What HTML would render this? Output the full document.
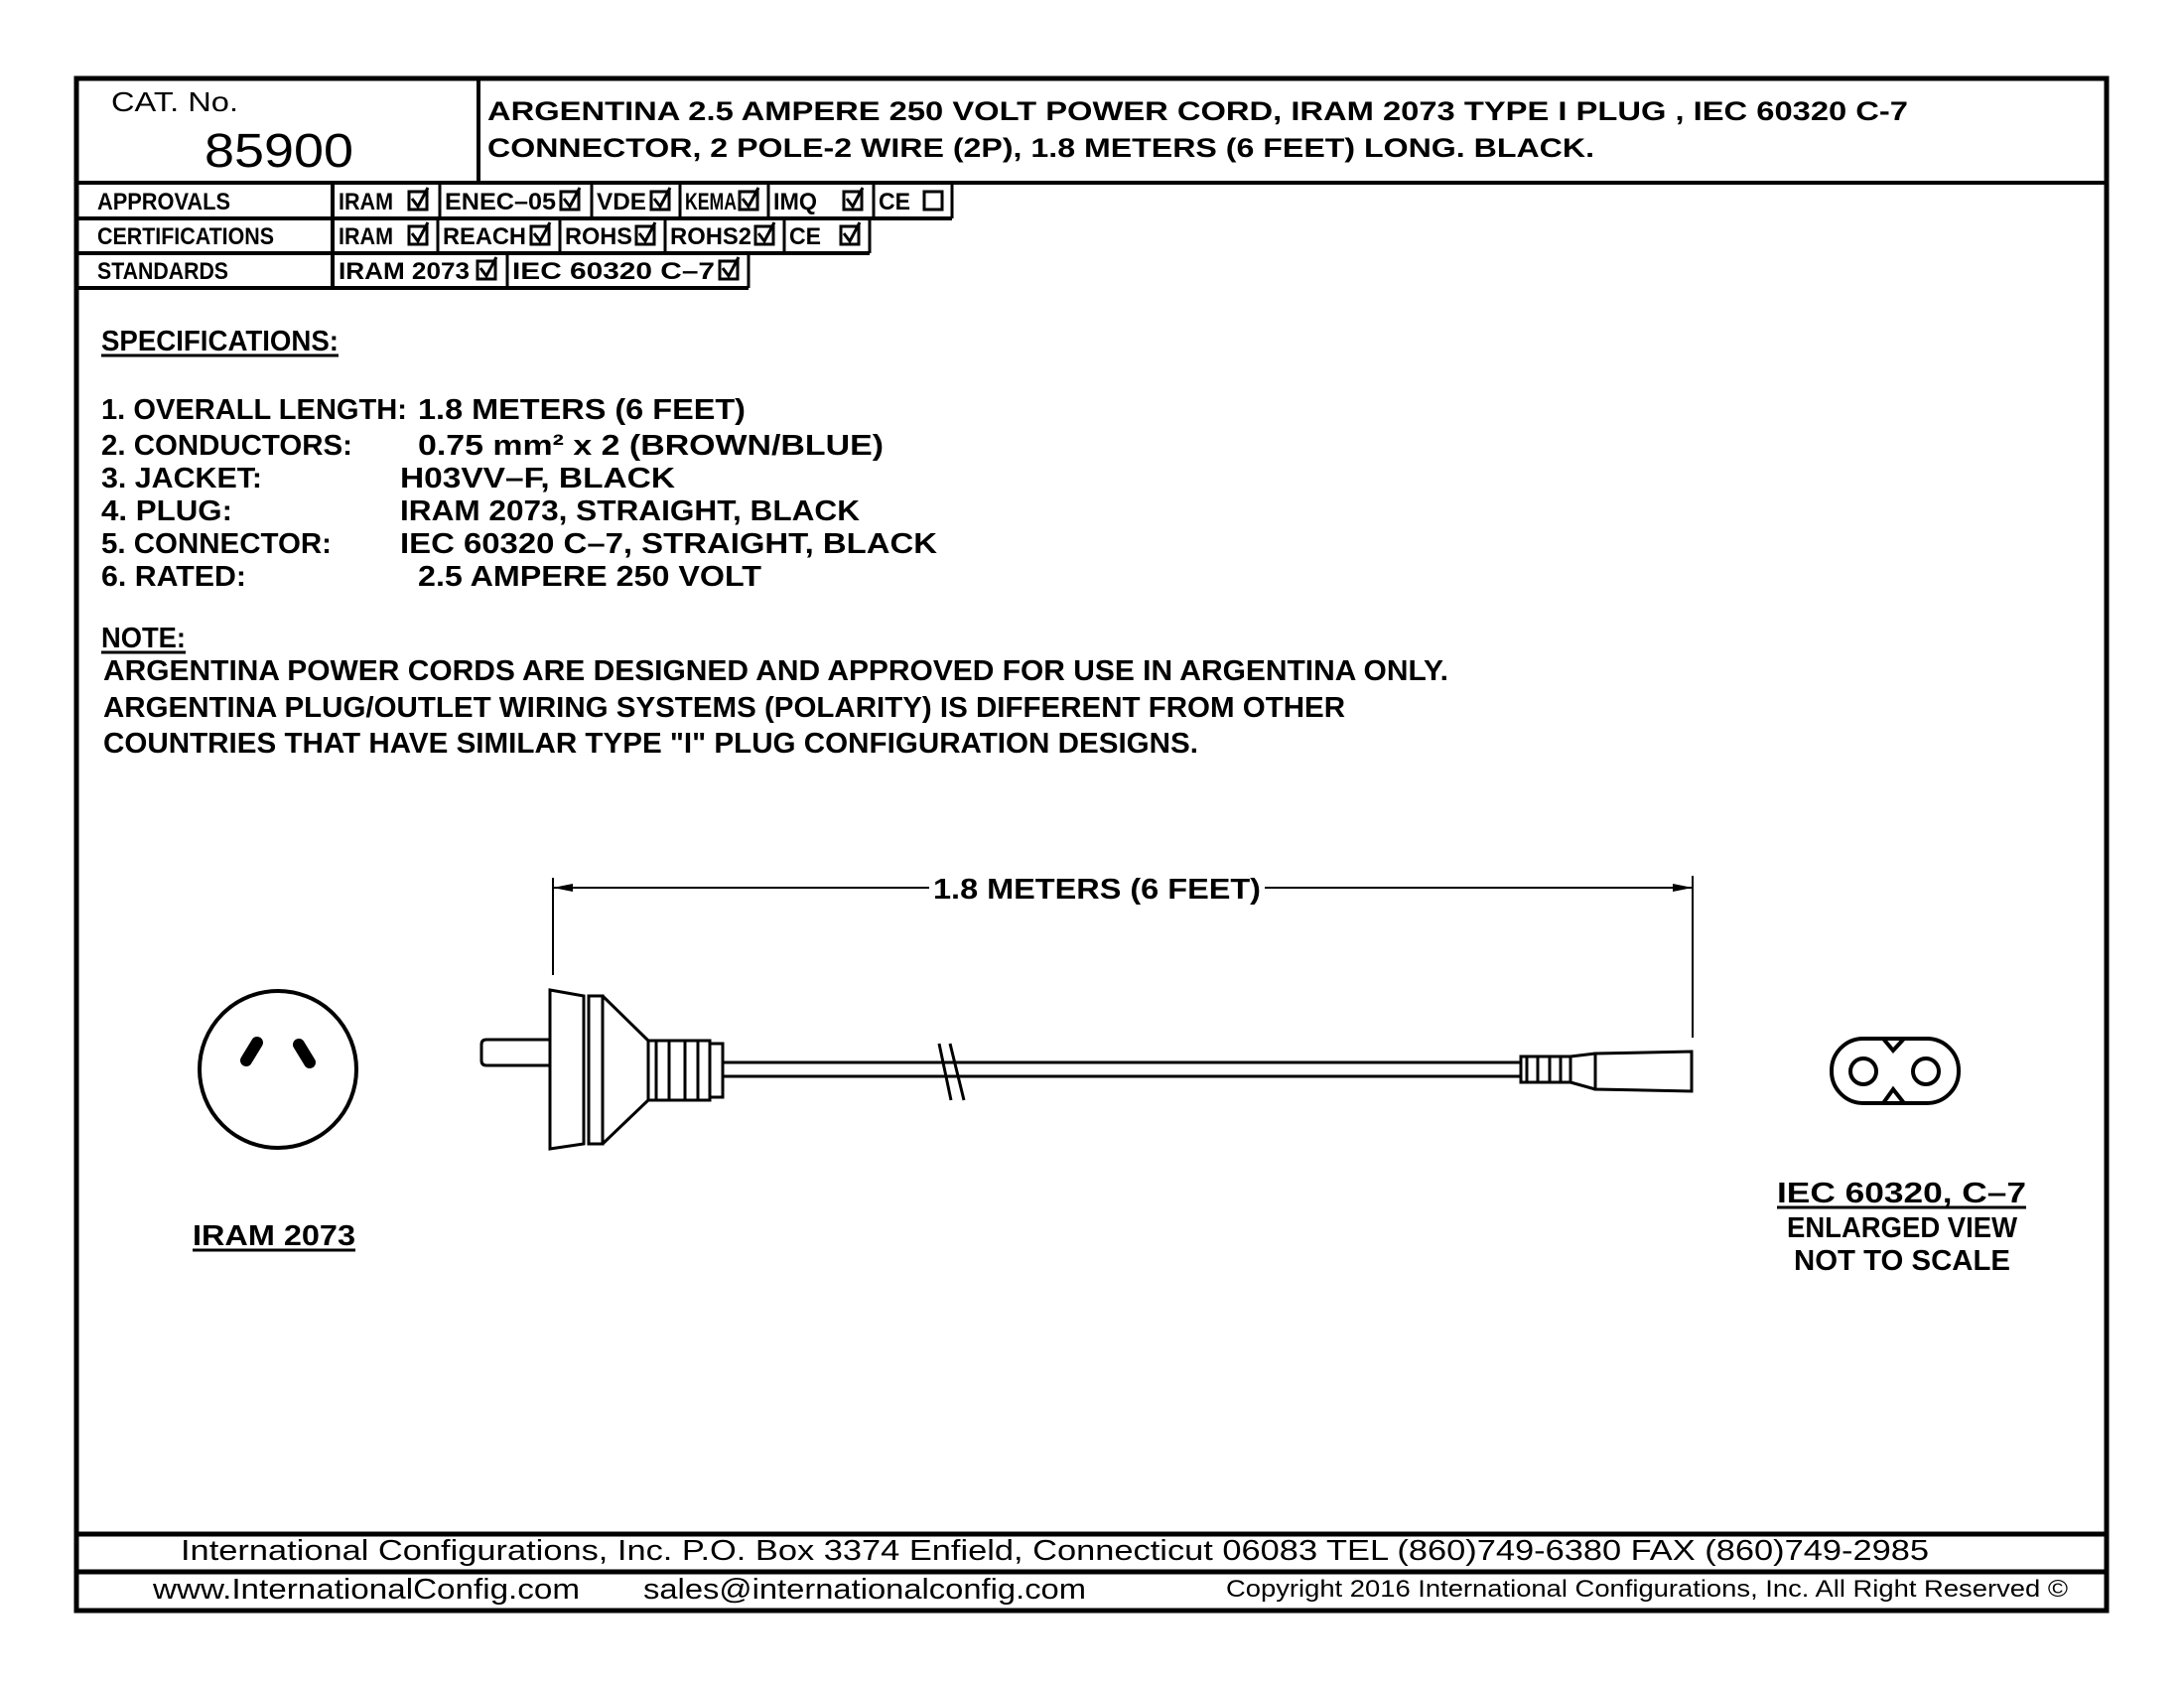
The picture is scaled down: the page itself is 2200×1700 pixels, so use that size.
<!DOCTYPE html>
<html><head><meta charset="utf-8"><style>
html,body{margin:0;padding:0;background:#fff;}
svg{display:block;}
text{font-family:"Liberation Sans",sans-serif;fill:#000;}
.b{font-weight:bold;}
</style></head><body>
<svg width="2200" height="1700" viewBox="0 0 2200 1700" xmlns="http://www.w3.org/2000/svg">
<g fill="none" stroke="#000">
<!-- outer border -->
<rect x="77" y="79" width="2045" height="1543" stroke-width="5"/>
<line x1="77" y1="184" x2="2122" y2="184" stroke-width="4"/>
<line x1="482" y1="79" x2="482" y2="184" stroke-width="4"/>
<!-- table rows -->
<line x1="77" y1="220" x2="959" y2="220" stroke-width="4"/>
<line x1="77" y1="255" x2="876" y2="255" stroke-width="4"/>
<line x1="77" y1="290" x2="754" y2="290" stroke-width="4"/>
<line x1="335" y1="184" x2="335" y2="290" stroke-width="4"/>
<!-- approvals cells -->
<line x1="959" y1="184" x2="959" y2="220" stroke-width="3"/>
<line x1="443" y1="184" x2="443" y2="220" stroke-width="3"/>
<line x1="596" y1="184" x2="596" y2="220" stroke-width="3"/>
<line x1="685" y1="184" x2="685" y2="220" stroke-width="3"/>
<line x1="774" y1="184" x2="774" y2="220" stroke-width="3"/>
<line x1="880" y1="184" x2="880" y2="220" stroke-width="3"/>
<!-- certs cells -->
<line x1="441" y1="220" x2="441" y2="255" stroke-width="3"/>
<line x1="564" y1="220" x2="564" y2="255" stroke-width="3"/>
<line x1="670" y1="220" x2="670" y2="255" stroke-width="3"/>
<line x1="790" y1="220" x2="790" y2="255" stroke-width="3"/>
<line x1="876" y1="220" x2="876" y2="255" stroke-width="3"/>
<!-- standards cells -->
<line x1="511" y1="255" x2="511" y2="290" stroke-width="3"/>
<line x1="754" y1="255" x2="754" y2="290" stroke-width="3"/>
<!-- footer -->
<line x1="77" y1="1545" x2="2122" y2="1545" stroke-width="5"/>
<line x1="77" y1="1583" x2="2122" y2="1583" stroke-width="5"/>
</g>

<!-- checkboxes -->
<g fill="none" stroke="#000" stroke-width="3">
<rect x="412" y="193" width="18" height="18"/><path d="M415 200 L421 208 L431 189"/>
<rect x="565" y="193" width="18" height="18"/><path d="M568 200 L574 208 L584 189"/>
<rect x="656" y="193" width="18" height="18"/><path d="M659 200 L665 208 L675 189"/>
<rect x="745" y="193" width="18" height="18"/><path d="M748 200 L754 208 L764 189"/>
<rect x="850" y="193" width="18" height="18"/><path d="M853 200 L859 208 L869 189"/>
<rect x="931" y="193" width="18" height="18"/>
<rect x="412" y="228" width="18" height="18"/><path d="M415 235 L421 243 L431 224"/>
<rect x="535" y="228" width="18" height="18"/><path d="M538 235 L544 243 L554 224"/>
<rect x="641" y="228" width="18" height="18"/><path d="M644 235 L650 243 L660 224"/>
<rect x="761" y="228" width="18" height="18"/><path d="M764 235 L770 243 L780 224"/>
<rect x="847" y="228" width="18" height="18"/><path d="M850 235 L856 243 L866 224"/>
<rect x="481" y="263" width="18" height="18"/><path d="M484 270 L490 278 L500 259"/>
<rect x="725" y="263" width="18" height="18"/><path d="M728 270 L734 278 L744 259"/>
</g>

<!-- header text -->
<text x="112" y="112" font-size="28" textLength="128" lengthAdjust="spacingAndGlyphs">CAT. No.</text>
<text x="206" y="168" font-size="48" textLength="150" lengthAdjust="spacingAndGlyphs">85900</text>
<text class="b" x="491" y="121" font-size="27" textLength="1431" lengthAdjust="spacingAndGlyphs">ARGENTINA 2.5 AMPERE 250 VOLT POWER CORD, IRAM 2073 TYPE I PLUG , IEC 60320 C-7</text>
<text class="b" x="491" y="158" font-size="27" textLength="1115" lengthAdjust="spacingAndGlyphs">CONNECTOR, 2 POLE-2 WIRE (2P), 1.8 METERS (6 FEET) LONG. BLACK.</text>

<!-- table text -->
<g class="b" font-size="24">
<text x="98" y="211" textLength="134" lengthAdjust="spacingAndGlyphs">APPROVALS</text>
<text x="98" y="246" textLength="178" lengthAdjust="spacingAndGlyphs">CERTIFICATIONS</text>
<text x="98" y="281" textLength="132" lengthAdjust="spacingAndGlyphs">STANDARDS</text>
<text x="341" y="211" textLength="55" lengthAdjust="spacingAndGlyphs">IRAM</text>
<text x="448" y="211" textLength="112" lengthAdjust="spacingAndGlyphs">ENEC–05</text>
<text x="601" y="211" textLength="50" lengthAdjust="spacingAndGlyphs">VDE</text>
<text x="690" y="211" textLength="52" lengthAdjust="spacingAndGlyphs">KEMA</text>
<text x="779" y="211" textLength="44" lengthAdjust="spacingAndGlyphs">IMQ</text>
<text x="885" y="211" textLength="32" lengthAdjust="spacingAndGlyphs">CE</text>
<text x="341" y="246" textLength="55" lengthAdjust="spacingAndGlyphs">IRAM</text>
<text x="446" y="246" textLength="84" lengthAdjust="spacingAndGlyphs">REACH</text>
<text x="569" y="246" textLength="68" lengthAdjust="spacingAndGlyphs">ROHS</text>
<text x="675" y="246" textLength="82" lengthAdjust="spacingAndGlyphs">ROHS2</text>
<text x="795" y="246" textLength="32" lengthAdjust="spacingAndGlyphs">CE</text>
<text x="341" y="281" textLength="132" lengthAdjust="spacingAndGlyphs">IRAM  2073</text>
<text x="516" y="281" textLength="204" lengthAdjust="spacingAndGlyphs">IEC  60320  C–7</text>
</g>

<!-- specifications -->
<g class="b" font-size="29">
<text x="102" y="353" textLength="239" lengthAdjust="spacingAndGlyphs">SPECIFICATIONS:</text>
<line x1="102" y1="358" x2="341" y2="358" stroke="#000" stroke-width="3"/>
<text x="102" y="422" textLength="308" lengthAdjust="spacingAndGlyphs">1.  OVERALL  LENGTH:</text>
<text x="421" y="422" textLength="330" lengthAdjust="spacingAndGlyphs">1.8  METERS  (6  FEET)</text>
<text x="102" y="458" textLength="253" lengthAdjust="spacingAndGlyphs">2.  CONDUCTORS:</text>
<text x="421" y="458" textLength="469" lengthAdjust="spacingAndGlyphs">0.75  mm²  x  2  (BROWN/BLUE)</text>
<text x="102" y="491" textLength="162" lengthAdjust="spacingAndGlyphs">3.  JACKET:</text>
<text x="403" y="491" textLength="277" lengthAdjust="spacingAndGlyphs">H03VV–F,  BLACK</text>
<text x="102" y="524" textLength="132" lengthAdjust="spacingAndGlyphs">4.  PLUG:</text>
<text x="403" y="524" textLength="463" lengthAdjust="spacingAndGlyphs">IRAM  2073,  STRAIGHT,  BLACK</text>
<text x="102" y="557" textLength="232" lengthAdjust="spacingAndGlyphs">5.  CONNECTOR:</text>
<text x="403" y="557" textLength="541" lengthAdjust="spacingAndGlyphs">IEC  60320  C–7,  STRAIGHT,  BLACK</text>
<text x="102" y="590" textLength="146" lengthAdjust="spacingAndGlyphs">6.  RATED:</text>
<text x="421" y="590" textLength="346" lengthAdjust="spacingAndGlyphs">2.5  AMPERE  250  VOLT</text>

<text x="102" y="652" textLength="85" lengthAdjust="spacingAndGlyphs">NOTE:</text>
<line x1="102" y1="657" x2="187" y2="657" stroke="#000" stroke-width="3"/>
<text x="104" y="685" textLength="1355" lengthAdjust="spacingAndGlyphs">ARGENTINA  POWER  CORDS  ARE  DESIGNED  AND  APPROVED  FOR  USE  IN  ARGENTINA  ONLY.</text>
<text x="104" y="722" textLength="1251" lengthAdjust="spacingAndGlyphs">ARGENTINA  PLUG/OUTLET  WIRING  SYSTEMS  (POLARITY)  IS  DIFFERENT  FROM  OTHER</text>
<text x="104" y="758" textLength="1103" lengthAdjust="spacingAndGlyphs">COUNTRIES  THAT  HAVE  SIMILAR  TYPE  "I"  PLUG  CONFIGURATION  DESIGNS.</text>

<!-- dimension -->
<text x="940" y="905" textLength="330" lengthAdjust="spacingAndGlyphs">1.8  METERS  (6  FEET)</text>
<text x="194" y="1254" textLength="164" lengthAdjust="spacingAndGlyphs">IRAM  2073</text>
<line x1="194" y1="1259" x2="358" y2="1259" stroke="#000" stroke-width="3"/>
<text x="1790" y="1211" textLength="251" lengthAdjust="spacingAndGlyphs">IEC  60320,  C–7</text>
<line x1="1790" y1="1216" x2="2041" y2="1216" stroke="#000" stroke-width="3"/>
<text x="1800" y="1246" textLength="232" lengthAdjust="spacingAndGlyphs">ENLARGED  VIEW</text>
<text x="1807" y="1279" textLength="218" lengthAdjust="spacingAndGlyphs">NOT  TO  SCALE</text>
</g>

<g stroke="#000" fill="none" stroke-width="2">
<line x1="557" y1="884" x2="557" y2="982"/>
<line x1="1705" y1="882" x2="1705" y2="1045"/>
<line x1="557" y1="894" x2="936" y2="894"/>
<line x1="1274" y1="894" x2="1705" y2="894"/>
</g>
<path d="M557 894 L577 890 L577 898 Z M1705 894 L1685 890 L1685 898 Z" fill="#000"/>

<!-- plug side view -->
<g stroke="#000" fill="none" stroke-width="3">
<path d="M554 1047 L490 1047 Q485 1047 485 1052 L485 1068 Q485 1073 490 1073 L554 1073"/>
<path d="M554 997 L588 1003 L588 1152 L554 1157 Z"/>
<rect x="593" y="1003" width="14" height="149"/>
<path d="M607 1003 L653 1048 M607 1152 L653 1108"/>
<rect x="653" y="1048" width="62" height="60"/>
<rect x="715" y="1051" width="13" height="54"/>
<path d="M661 1048 V1108 M674 1048 V1108 M690 1048 V1108 M703 1048 V1108"/>
<line x1="728" y1="1070" x2="1532" y2="1070"/>
<line x1="728" y1="1084" x2="1532" y2="1084"/>
<path d="M946 1051 L958 1108 M957 1051 L971 1108"/>
<rect x="1532" y="1064" width="50" height="26"/>
<path d="M1538 1064 V1090 M1549 1064 V1090 M1561 1064 V1090 M1572 1064 V1090"/>
<path d="M1582 1064 L1607 1061 M1582 1090 L1607 1097"/>
<path d="M1607 1061 L1704 1059 L1704 1099 L1607 1097 Z"/>
</g>

<!-- IRAM face -->
<circle cx="280" cy="1077" r="79" fill="none" stroke="#000" stroke-width="4"/>
<line x1="259" y1="1050" x2="248" y2="1068" stroke="#000" stroke-width="12" stroke-linecap="round"/>
<line x1="301" y1="1052" x2="312" y2="1070" stroke="#000" stroke-width="12" stroke-linecap="round"/>

<!-- C7 face -->
<g stroke="#000" fill="none" stroke-width="4">
<rect x="1845" y="1046" width="128" height="65" rx="32" ry="32"/>
<circle cx="1877" cy="1079" r="13"/>
<circle cx="1940" cy="1079" r="13"/>
<path d="M1897 1046 L1907 1058 L1918 1046 M1897 1111 L1907 1097 L1918 1111"/>
</g>

<!-- footer text -->
<text x="182" y="1571" font-size="29" textLength="1761" lengthAdjust="spacingAndGlyphs">International Configurations, Inc.   P.O. Box 3374   Enfield, Connecticut 06083   TEL (860)749-6380   FAX (860)749-2985</text>
<text x="154" y="1610" font-size="29" textLength="430" lengthAdjust="spacingAndGlyphs">www.InternationalConfig.com</text>
<text x="648" y="1610" font-size="29" textLength="446" lengthAdjust="spacingAndGlyphs">sales@internationalconfig.com</text>
<text x="1235" y="1608" font-size="24" textLength="848" lengthAdjust="spacingAndGlyphs">Copyright 2016 International Configurations, Inc. All Right Reserved ©</text>
</svg>
</body></html>
